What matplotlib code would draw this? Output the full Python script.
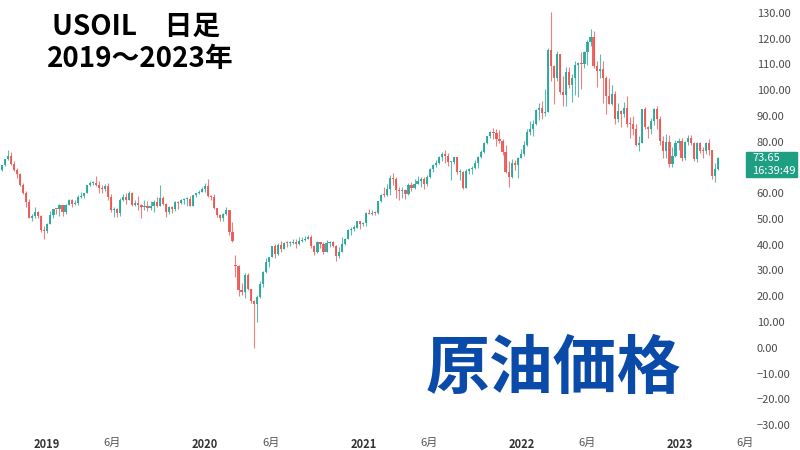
import numpy as np
import pandas as pd
import matplotlib
matplotlib.use("Agg")
import matplotlib.pyplot as plt
import matplotlib.dates as mdates
from matplotlib.patches import Rectangle

plt.rcParams['font.family'] = ['Noto Sans CJK JP', 'DejaVu Sans']

# USOIL, weekly candles (week starting Monday)
first_week = '2018-09-17'

opens = [
    # 2018
    68.9, 70.8, 73.2, 74.3, 71.3, 69.1, 67.6, 63.1, 60.2, 56.5, 50.4, 51.0, 52.6, 51.2, 45.6,
    # 2019
    45.3, 48.0, 51.6, 53.8, 53.7, 55.3, 52.7, 55.6, 57.3, 55.8, 56.1, 58.6, 59.0, 60.1, 63.1, 63.9,
    64.0, 63.3, 61.9, 61.7, 62.8, 58.6, 53.5, 53.9, 52.5, 57.4, 58.5, 57.5, 60.2, 55.6, 56.2, 55.6,
    54.5, 54.9, 54.2, 55.1, 56.5, 54.9, 58.1, 55.9, 52.8, 54.7, 53.8, 56.6, 56.2, 57.2, 57.7, 57.8,
    55.2, 59.2, 60.1, 60.4, 61.7,
    # 2020
    63.0, 59.0, 58.5, 54.2, 51.6, 50.3, 52.1, 53.4, 44.8, 32.0, 31.7, 22.6, 21.5, 28.3, 22.8, 18.3,
    16.9, 19.8, 24.7, 29.5, 33.3, 35.3, 39.5, 36.3, 39.8, 38.5, 40.6, 40.5, 40.6, 41.2, 40.2, 41.6,
    42.0, 42.3, 42.9, 39.6, 37.3, 41.1, 40.2, 37.1, 40.6, 40.9, 39.7, 35.8, 37.2, 40.1, 42.4, 45.6,
    46.3, 46.6, 49.1, 48.2,
    # 2021
    48.4, 52.3, 52.1, 52.3, 52.2, 56.9, 59.5, 59.2, 61.5, 66.1, 65.6, 61.4, 60.9, 61.3, 59.6, 63.2,
    62.1, 63.6, 64.9, 65.4, 63.6, 66.3, 69.6, 70.9, 71.6, 74.0, 75.2, 74.5, 72.0, 72.1, 73.9, 68.3,
    68.4, 62.1, 68.8, 69.3, 70.0, 71.9, 74.0, 75.9, 79.4, 82.1, 83.8, 83.4, 81.1, 80.3, 76.1, 68.2,
    66.2, 71.7, 70.9, 73.8,
    # 2022
    75.3, 78.9, 83.8, 85.1, 86.8, 92.3, 93.1, 91.1, 91.6, 115.7, 109.3, 104.7, 113.9, 99.3, 98.3, 106.9,
    102.1, 104.7, 109.8, 110.5, 110.3, 114.9, 118.9, 120.7, 109.5, 107.6, 108.4, 104.8, 97.6, 94.7, 98.6, 89.0,
    92.0, 90.8, 93.3, 86.9, 86.8, 85.1, 78.7, 79.5, 92.6, 85.6, 85.0, 87.9, 92.6, 89.0, 80.1, 76.3,
    80.0, 71.2, 74.3, 79.6,
    # 2023
    80.4, 73.8, 79.9, 81.6, 79.7, 73.3, 79.6, 76.5, 76.4, 79.7, 76.7, 66.6, 69.3,
]

highs = [
    # 2018
    71.0, 73.3, 76.9, 75.9, 72.6, 69.8, 67.9, 64.0, 60.8, 57.8, 52.0, 54.5, 53.1, 51.4, 47.1,
    # 2019
    48.6, 53.3, 54.0, 54.0, 55.8, 55.6, 56.0, 57.8, 57.9, 57.3, 59.2, 60.4, 60.2, 63.3, 64.8, 64.6,
    66.6, 64.8, 63.2, 63.7, 63.8, 59.9, 54.8, 54.3, 58.0, 59.9, 60.0, 60.9, 60.6, 57.4, 58.8, 56.0,
    57.5, 56.9, 56.9, 57.5, 58.7, 63.3, 58.9, 56.3, 54.9, 54.9, 56.9, 56.9, 57.9, 58.0, 58.6, 58.9,
    59.4, 60.2, 61.2, 62.3, 63.8,
    # 2020
    65.6, 59.3, 59.7, 54.4, 51.8, 52.3, 54.6, 53.6, 48.7, 36.0, 32.0, 25.2, 29.1, 29.0, 23.0, 18.5,
    20.5, 25.9, 29.9, 34.7, 35.3, 39.7, 40.4, 40.5, 41.6, 41.0, 41.4, 41.6, 42.4, 42.1, 42.9, 43.1,
    43.4, 43.8, 43.6, 39.8, 41.4, 41.2, 40.9, 41.9, 41.5, 41.6, 39.8, 39.3, 43.2, 42.6, 46.3, 46.7,
    47.7, 49.3, 49.3, 48.8,
    # 2021
    52.8, 53.9, 53.6, 53.3, 57.1, 59.8, 62.3, 63.5, 67.0, 67.9, 66.5, 62.3, 62.3, 61.7, 64.0, 64.4,
    65.5, 66.7, 66.4, 66.5, 66.9, 69.8, 71.2, 72.9, 74.3, 76.2, 76.9, 75.5, 72.4, 74.1, 74.0, 69.6,
    68.5, 69.5, 70.0, 70.5, 73.0, 74.4, 76.7, 79.8, 82.3, 84.0, 85.4, 84.9, 84.7, 81.2, 78.9, 72.6,
    73.3, 72.9, 74.0, 77.3,
    # 2022
    80.2, 84.8, 87.9, 88.6, 92.8, 94.9, 95.8, 100.5, 116.6, 130.5, 109.7, 115.4, 114.0, 105.6, 108.9, 109.0,
    106.5, 111.4, 111.0, 115.0, 115.1, 119.4, 123.7, 123.0, 111.5, 114.0, 111.5, 105.5, 104.9, 102.0, 99.9, 94.9,
    92.4, 95.4, 97.7, 89.5, 90.1, 86.7, 82.1, 92.9, 93.6, 86.0, 89.4, 93.0, 93.7, 89.9, 82.3, 83.0,
    82.5, 78.0, 80.5, 81.5,
    # 2023
    81.4, 80.1, 82.5, 82.6, 79.8, 80.0, 80.0, 78.1, 80.0, 80.9, 76.9, 71.7, 74.0,
]

lows = [
    # 2018
    68.5, 70.6, 73.0, 70.9, 68.5, 65.8, 62.9, 59.6, 54.7, 50.2, 49.4, 50.2, 50.3, 45.1, 42.4,
    # 2019
    44.4, 47.9, 50.5, 51.9, 51.3, 51.2, 51.8, 55.5, 54.5, 55.3, 55.6, 58.3, 58.0, 60.0, 63.0, 63.2,
    62.8, 60.0, 60.0, 60.8, 57.5, 52.9, 50.6, 50.7, 51.3, 57.1, 55.7, 57.3, 55.2, 55.2, 53.6, 50.5,
    53.5, 53.1, 53.4, 52.8, 54.7, 54.9, 55.5, 50.9, 51.9, 52.4, 53.3, 53.8, 55.8, 56.0, 55.0, 55.2,
    55.1, 58.5, 59.9, 60.3, 60.6,
    # 2020
    58.7, 57.4, 53.7, 50.6, 49.3, 49.4, 51.6, 43.9, 41.0, 27.3, 20.1, 20.5, 19.3, 22.3, 17.3, 0.0,
    10.1, 19.5, 23.6, 29.1, 31.5, 35.2, 34.7, 36.0, 37.1, 38.2, 39.2, 39.7, 40.4, 38.8, 39.8, 41.2,
    41.5, 42.3, 38.9, 36.1, 36.9, 38.8, 36.6, 37.0, 39.2, 39.2, 33.6, 34.9, 37.0, 39.8, 42.3, 43.9,
    45.2, 46.5, 46.2, 47.2,
    # 2021
    47.2, 51.8, 51.4, 51.5, 52.1, 56.6, 58.7, 59.0, 59.3, 63.1, 58.3, 57.3, 58.1, 57.6, 59.2, 60.8,
    61.6, 63.4, 62.6, 61.6, 62.9, 66.0, 68.4, 70.1, 71.2, 72.6, 71.9, 70.7, 65.0, 71.3, 67.5, 65.2,
    61.7, 62.1, 67.6, 67.6, 69.5, 69.8, 73.5, 75.8, 79.3, 81.3, 81.2, 78.3, 79.6, 75.0, 67.7, 62.4,
    66.1, 69.1, 66.0, 73.6,
    # 2022
    74.3, 78.4, 82.8, 82.1, 86.6, 88.5, 88.8, 90.1, 91.5, 103.5, 94.5, 103.4, 98.4, 93.9, 93.9, 100.8,
    95.3, 98.2, 97.3, 100.3, 108.8, 109.8, 117.2, 108.6, 101.2, 104.6, 95.1, 90.6, 94.5, 94.2, 87.0, 87.5,
    85.7, 89.6, 85.9, 81.3, 82.8, 78.3, 76.3, 79.5, 84.9, 81.3, 82.9, 86.4, 84.8, 78.9, 73.6, 73.8,
    70.1, 70.3, 73.9, 76.8,
    # 2023
    72.7, 73.1, 78.8, 78.8, 72.6, 72.3, 75.7, 73.8, 75.1, 74.7, 65.6, 64.4, 69.0,
]

closes = [
    # 2018
    70.8, 73.2, 74.3, 71.3, 69.1, 67.6, 63.1, 60.2, 56.5, 50.4, 51.0, 52.6, 51.2, 45.6, 45.3,
    # 2019
    48.0, 51.6, 53.8, 53.7, 55.3, 52.7, 55.6, 57.3, 55.8, 56.1, 58.6, 59.0, 60.1, 63.1, 63.9, 64.0,
    63.3, 61.9, 61.7, 62.8, 58.6, 53.5, 53.9, 52.5, 57.4, 58.5, 57.5, 60.2, 55.6, 56.2, 55.6, 54.5,
    54.9, 54.2, 55.1, 56.5, 54.9, 58.1, 55.9, 52.8, 54.7, 53.8, 56.6, 56.2, 57.2, 57.7, 57.8, 55.2,
    59.2, 60.1, 60.4, 61.7, 63.0,
    # 2020
    59.0, 58.5, 54.2, 51.6, 50.3, 52.1, 53.4, 44.8, 41.3, 31.7, 22.6, 21.5, 28.3, 22.8, 18.3, 16.9,
    19.8, 24.7, 29.5, 33.3, 35.3, 39.5, 36.3, 39.8, 38.5, 40.6, 40.5, 40.6, 41.2, 40.2, 41.6, 42.0,
    42.3, 42.9, 39.6, 37.3, 41.1, 40.2, 37.1, 40.6, 40.9, 39.7, 35.8, 37.2, 40.1, 42.4, 45.6, 46.3,
    46.6, 49.1, 48.2, 48.4,
    # 2021
    52.3, 52.1, 52.3, 52.2, 56.9, 59.5, 59.2, 61.5, 66.1, 65.6, 61.4, 60.9, 61.3, 59.6, 63.2, 62.1,
    63.6, 64.9, 65.4, 63.6, 66.3, 69.6, 70.9, 71.6, 74.0, 75.2, 74.5, 72.0, 72.1, 73.9, 68.3, 68.4,
    62.1, 68.8, 69.3, 70.0, 71.9, 74.0, 75.9, 79.4, 82.1, 83.8, 83.4, 81.1, 80.3, 76.1, 68.2, 66.2,
    71.7, 70.9, 73.8, 75.3,
    # 2022
    78.9, 83.8, 85.1, 86.8, 92.3, 93.1, 91.1, 91.6, 115.7, 109.3, 104.7, 113.9, 99.3, 98.3, 106.9, 102.1,
    104.7, 109.8, 110.5, 110.3, 114.9, 118.9, 120.7, 109.5, 107.6, 108.4, 104.8, 97.6, 94.7, 98.6, 89.0, 92.0,
    90.8, 93.3, 86.9, 86.8, 85.1, 78.7, 79.5, 92.6, 85.6, 85.0, 87.9, 92.6, 89.0, 80.1, 76.3, 80.0,
    71.2, 74.3, 79.6, 80.4,
    # 2023
    73.8, 79.9, 81.6, 79.7, 73.3, 79.6, 76.5, 76.4, 79.7, 76.7, 66.6, 69.3, 73.65,
]

last_price = '73.65'
countdown = '16:39:49'

price_ticks = list(range(-30, 131, 10))
year_ticks = ['2019-01-01', '2020-01-01', '2021-01-01', '2022-01-01', '2023-01-01']
june_ticks = ['2019-06-01', '2020-06-01', '2021-06-01', '2022-06-01', '2023-06-01']

up_color = '#26a69a'
down_color = '#ef5350'

o = np.array(opens)
h = np.array(highs)
l = np.array(lows)
c = np.array(closes)
weeks = pd.date_range(first_week, periods=len(c), freq='W-MON')
x = mdates.date2num(weeks) + 2.5
colors = np.where(c >= o, up_color, down_color)

fig = plt.figure(figsize=(8, 4.5), dpi=100)
ax = fig.add_axes([0, 18 / 450, 747 / 800, 432 / 450])

# velas
ax.vlines(x, l, h, colors=colors, linewidth=0.8, alpha=0.75)
ax.bar(x, np.maximum(np.abs(c - o), 0.4), bottom=np.minimum(o, c), width=5.0,
       color=colors, linewidth=0, alpha=0.9)

# escala: 2019-01-01 em x=46.7px, 0.4335 px por dia
d0 = mdates.date2num(pd.Timestamp('2019-01-01'))
ax.set_xlim(d0 - 46.7 / 0.4335, d0 + (747 - 46.7) / 0.4335)
ax.set_ylim((347.75 - 432) / 2.575, 347.75 / 2.575)

for s in ax.spines.values():
    s.set_visible(False)

# 70.00 fica escondido atrás da etiqueta do preço
ax.yaxis.tick_right()
ax.set_yticks(price_ticks)
ylabels = []
for v in price_ticks:
    if v == 70:
        ylabels.append('')
    elif v < 0:
        ylabels.append('\u2212%.2f' % -v)
    else:
        ylabels.append('%.2f' % v)
ax.set_yticklabels(ylabels)
ax.tick_params(axis='y', length=0, pad=7, labelsize=8, labelcolor='#4a4a4a')

xt = [mdates.date2num(pd.Timestamp(t)) for t in year_ticks + june_ticks]
ax.set_xticks(xt)
ax.set_xticklabels([t[:4] for t in year_ticks] + ['6月'] * len(june_ticks))
ax.tick_params(axis='x', length=0, pad=4, labelsize=8)
for i, lab in enumerate(ax.get_xticklabels()):
    if i < len(year_ticks):
        lab.set_fontweight('bold')
        lab.set_color('#333333')
    else:
        lab.set_color('#555555')

# etiqueta do preço atual
fig.patches.append(Rectangle((746 / 800, 1 - 177 / 450), 51 / 800, 25 / 450,
                             transform=fig.transFigure, color='#1e9e83', zorder=5))
fig.text(752 / 800, 1 - 158 / 450, last_price, color='white', fontsize=8, va='center', zorder=6)
fig.text(752 / 800, 1 - 171 / 450, countdown, color='white', fontsize=8, va='center', zorder=6)

# textos
fig.text(52 / 800, 1 - 27 / 450, 'USOIL\u3000日足', fontsize=20, fontweight='bold', va='center')
fig.text(47 / 800, 1 - 59 / 450, '2019～2023年', fontsize=20, fontweight='bold', va='center')
fig.text(553 / 800, 1 - 369 / 450, '原油価格', fontsize=46, fontweight='bold',
         color='#0a4aa8', ha='center', va='center')

fig.savefig('out.png', dpi=100)
